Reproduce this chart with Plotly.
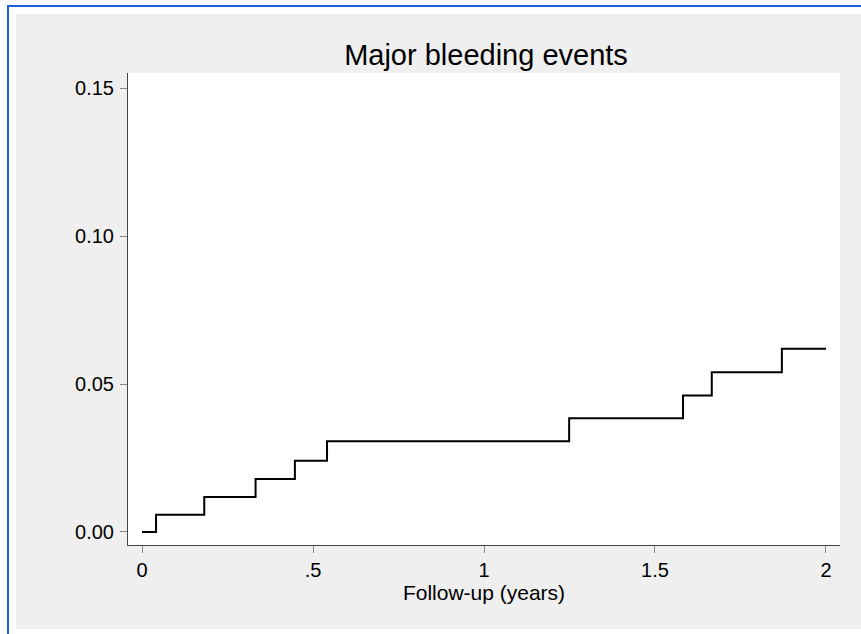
import plotly.graph_objects as go

# Kaplan-Meier style cumulative incidence of major bleeding
follow_up_years = [0, 0.041, 0.182, 0.332, 0.447, 0.541, 1.249, 1.582, 1.666, 1.871, 2.0]
cum_incidence = [0.0, 0.0058, 0.0118, 0.0179, 0.0241, 0.0307, 0.0384, 0.0461, 0.0540, 0.0619, 0.0619]

x_tick_vals = [0, 0.5, 1, 1.5, 2]
x_tick_text = ["0", ".5", "1", "1.5", "2"]
y_tick_vals = [0.0, 0.05, 0.10, 0.15]
y_tick_text = ["0.00", "0.05", "0.10", "0.15"]

W, H = 861, 634
L, R, T, B = 128, 21, 73, 89
PW, PH = W - L - R, H - T - B


def px_x(p):
    return (p - L) / PW


def px_y(p):
    return (H - B - p) / PH


FONT = "Liberation Sans, Arial, sans-serif"
GRAY_BG = "#EFEFEF"
BLUE = "#1F5FD6"

fig = go.Figure()
fig.add_trace(go.Scatter(
    x=follow_up_years, y=cum_incidence, mode="lines",
    line=dict(shape="hv", color="black", width=2),
    showlegend=False, hoverinfo="skip",
))

shapes = [
    # white frame around the graph region
    dict(type="rect", xref="paper", yref="paper", x0=px_x(0), x1=px_x(16), y0=px_y(H), y1=px_y(0),
         fillcolor="white", line_width=0, layer="above"),
    dict(type="rect", xref="paper", yref="paper", x0=px_x(0), x1=px_x(W), y0=px_y(14), y1=px_y(0),
         fillcolor="white", line_width=0, layer="above"),
    dict(type="rect", xref="paper", yref="paper", x0=px_x(0), x1=px_x(W), y0=px_y(H), y1=px_y(629),
         fillcolor="white", line_width=0, layer="above"),
    # blue border (left and top)
    dict(type="rect", xref="paper", yref="paper", x0=px_x(7), x1=px_x(9), y0=px_y(H), y1=px_y(5),
         fillcolor=BLUE, line_width=0, layer="above"),
    dict(type="rect", xref="paper", yref="paper", x0=px_x(7), x1=px_x(W), y0=px_y(7), y1=px_y(5),
         fillcolor=BLUE, line_width=0, layer="above"),
]

fig.update_layout(
    width=W, height=H,
    margin=dict(l=L, r=R, t=T, b=B, pad=0),
    paper_bgcolor=GRAY_BG, plot_bgcolor="white",
    font=dict(family=FONT, color="black"),
    title=dict(text="Major bleeding events", x=px_x(486), xref="paper", xanchor="center",
               y=1 - 55 / H, yref="container", yanchor="middle",
               font=dict(size=29, family=FONT, color="black")),
    shapes=shapes,
    xaxis=dict(
        range=[-0.041, 2.041], tickvals=x_tick_vals, ticktext=x_tick_text,
        showgrid=False, zeroline=False, showline=True, linecolor="#444", linewidth=1,
        ticks="outside", ticklen=7, tickcolor="#888", tickwidth=1,
        tickfont=dict(size=20, family=FONT, color="black"),
        title=dict(text="Follow-up (years)", font=dict(size=21, family=FONT, color="black"), standoff=4),
    ),
    yaxis=dict(
        range=[-0.0044, 0.1551], tickvals=y_tick_vals, ticktext=y_tick_text,
        showgrid=False, zeroline=False, showline=True, linecolor="#444", linewidth=1,
        ticks="outside", ticklen=7, tickcolor="#888", tickwidth=1, ticklabelstandoff=2,
        tickfont=dict(size=20, family=FONT, color="black"),
    ),
)

fig.write_html("out.html")
